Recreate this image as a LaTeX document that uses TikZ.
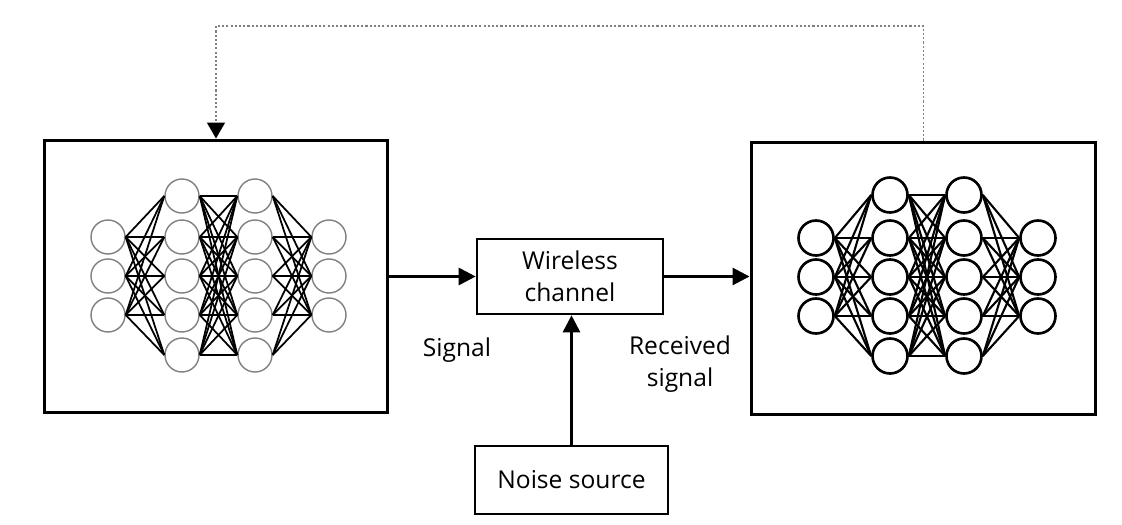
\documentclass[tikz,border=0pt]{standalone}
\usepackage{fontspec}
\setmainfont{Open Sans}
\usepackage{tikz}
\usetikzlibrary{arrows.meta}

\tikzset{
  block/.style={draw, line width=1.7pt, inner sep=0pt},
  flow/.style={line width=1.6pt, -{Triangle[length=0.34cm, width=0.34cm]}},
  feedback/.style={gray, line width=0.8pt, dash pattern=on 1.2pt off 1.2pt, -{Triangle[length=0.32cm, width=0.36cm, black]}},
  lneuron/.style={circle, draw=gray, line width=0.8pt, minimum size=0.68cm, inner sep=0pt},
  rneuron/.style={circle, draw=black, line width=1.5pt, minimum size=0.7cm, inner sep=0pt},
  synapse/.style={black, line width=1pt},
  label/.style={align=center, font=\fontsize{14}{18.5}\selectfont}
}

\begin{document}
\begin{tikzpicture}[x=0.02cm, y=-0.02cm]
\useasboundingbox (0,0) rectangle (1122,524);

%% Blocks
\node[block, minimum width=6.88cm, minimum height=5.46cm] (lbox) at (216,276.5) {};
\node[block, minimum width=6.9cm, minimum height=5.46cm] (rbox) at (923.5,278.5) {};
\node[block, label, line width=1.5pt, minimum width=3.72cm, minimum height=1.5cm] (chan) at (570,276.5) {Wireless\\channel};
\node[block, label, line width=1.5pt, minimum width=3.86cm, minimum height=1.36cm] (noise) at (571.5,480) {Noise source};

%% Transmitter network
\foreach \i/\y in {1/237,2/276,3/315} {
  \node[lneuron] (la\i) at (108,\y) {};
  \node[lneuron] (ld\i) at (329,\y) {};
}
\foreach \i/\y in {1/196,2/237,3/276,4/315,5/355} {
  \node[lneuron] (lb\i) at (182,\y) {};
  \node[lneuron] (lc\i) at (255,\y) {};
}
\foreach \i in {1,2,3} \foreach \j in {1,...,5} {
  \draw[synapse] (la\i.east) -- (lb\j.west);
  \draw[synapse] (lc\j.east) -- (ld\i.west);
}
\foreach \i in {1,...,5} \foreach \j in {1,...,5}
  \draw[synapse] (lb\i.east) -- (lc\j.west);

%% Receiver network
\foreach \i/\y in {1/238,2/277,3/316} {
  \node[rneuron] (ra\i) at (816,\y) {};
  \node[rneuron] (rd\i) at (1038,\y) {};
}
\foreach \i/\y in {1/195,2/238,3/277,4/316,5/356} {
  \node[rneuron] (rb\i) at (890,\y) {};
  \node[rneuron] (rc\i) at (964,\y) {};
}
\foreach \i in {1,2,3} \foreach \j in {1,...,5} {
  \draw[synapse, line width=1.2pt] (ra\i.east) -- (rb\j.west);
  \draw[synapse, line width=1.2pt] (rc\j.east) -- (rd\i.west);
}
\foreach \i in {1,...,5} \foreach \j in {1,...,5}
  \draw[synapse, line width=1.2pt] (rb\i.east) -- (rc\j.west);

%% Signal path
\draw[flow] (lbox.east |- chan.west) -- (chan.west);
\draw[flow] (chan.east) -- (chan.east -| rbox.west);
\draw[flow] (noise.north) -- (noise.north |- chan.south);

\node[label] (sig) at (457,350) {Signal};
\node[label] (rsig) at (680,364) {Received\\signal};

%% Feedback loop
\coordinate (fbtop) at (570,26);
\draw[feedback] (rbox.north) |- (fbtop) -| (lbox.north);
\end{tikzpicture}
\end{document}
